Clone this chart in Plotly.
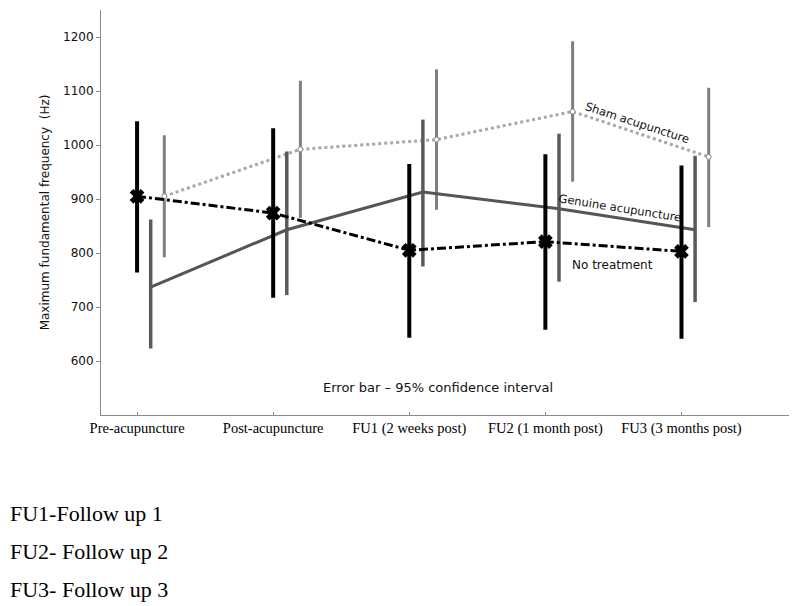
import plotly.graph_objects as go

stages = ["Pre-acupuncture", "Post-acupuncture", "FU1 (2 weeks post)",
          "FU2 (1 month post)", "FU3 (3 months post)"]

# means and 95% CI limits (Hz)
no_treatment = [905, 874, 805, 821, 803]
no_treatment_hi = [1044, 1031, 965, 983, 962]
no_treatment_lo = [764, 717, 643, 658, 641]

genuine = [737, 843, 913, 882, 843]
genuine_hi = [862, 988, 1047, 1021, 980]
genuine_lo = [623, 722, 775, 747, 709]

sham = [905, 992, 1010, 1062, 978]
sham_hi = [1018, 1119, 1140, 1192, 1106]
sham_lo = [792, 865, 880, 932, 848]

footnotes = ["FU1-Follow up 1", "FU2- Follow up 2", "FU3- Follow up 3"]


def add_group(fig, means, hi, lo, shift, line, marker, bar_color, bar_width):
    xs = [i + shift for i in range(len(means))]
    fig.add_trace(go.Scatter(
        x=xs, y=means, mode="lines+markers",
        line=line, marker=marker,
        error_y=dict(type="data", symmetric=False,
                     array=[h - m for h, m in zip(hi, means)],
                     arrayminus=[m - l for m, l in zip(means, lo)],
                     color=bar_color, thickness=bar_width, width=0),
        showlegend=False, hoverinfo="y"
    ))


fig = go.Figure()

add_group(fig, sham, sham_hi, sham_lo, 0.2,
          dict(color="#a8a8a8", width=3, dash="dot"),
          dict(symbol="circle", size=5, color="white",
               line=dict(color="#888888", width=1)),
          "#7f7f7f", 3)
add_group(fig, genuine, genuine_hi, genuine_lo, 0.1,
          dict(color="#555555", width=3),
          dict(size=1, color="#555555"),
          "#5a5a5a", 3.5)
add_group(fig, no_treatment, no_treatment_hi, no_treatment_lo, 0.0,
          dict(color="black", width=3, dash="dashdot"),
          dict(symbol="x", size=13, color="black"),
          "black", 4)

label_font = dict(family="DejaVu Sans", size=11.5, color="#111111")
fig.add_annotation(x=3.68, y=1041, text="Sham acupuncture", textangle=18,
                   showarrow=False, font=label_font)
fig.add_annotation(x=3.55, y=884, text="Genuine acupuncture", textangle=9,
                   showarrow=False, font=label_font)
fig.add_annotation(x=3.49, y=778, text="No treatment",
                   showarrow=False, font=dict(family="DejaVu Sans", size=12, color="#111111"))
fig.add_annotation(x=2.21, y=551, text="Error bar \u2013 95% confidence interval",
                   showarrow=False, font=dict(family="DejaVu Sans", size=13, color="#111111"))

for k, note in enumerate(footnotes):
    fig.add_annotation(xref="paper", yref="paper", x=-0.1352, y=-0.244 - k * 0.093,
                       xanchor="left", yanchor="middle", text=note, showarrow=False,
                       font=dict(family="Liberation Serif", size=22, color="black"))

fig.update_layout(
    width=792, height=598,
    margin=dict(l=93, r=11, t=2, b=191),
    plot_bgcolor="white", paper_bgcolor="white",
    xaxis=dict(range=[-0.265, 4.79], tickvals=list(range(len(stages))), ticktext=stages,
               showline=True, linecolor="#8a8a8a", linewidth=1, showgrid=False, zeroline=False,
               ticks="inside", ticklen=3, tickcolor="#8a8a8a",
               tickfont=dict(family="Liberation Serif", size=14.5, color="black")),
    yaxis=dict(range=[500, 1250], tickvals=[600, 700, 800, 900, 1000, 1100, 1200],
               showline=True, linecolor="#8a8a8a", linewidth=1, showgrid=False, zeroline=False,
               ticks="outside", ticklen=4, tickcolor="#8a8a8a",
               tickfont=dict(family="DejaVu Sans", size=12, color="#111111"),
               title=dict(text="Maximum fundamental frequency  (Hz)", standoff=10,
                          font=dict(family="DejaVu Sans", size=12, color="#111111"))),
)

fig.write_html("out.html")
